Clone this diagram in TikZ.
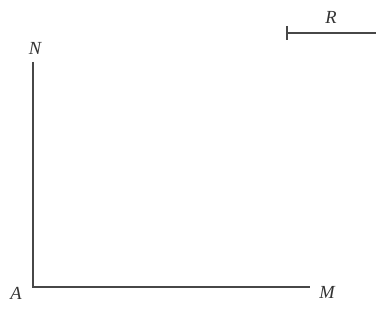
\documentclass[tikz,border=0pt]{standalone}
\usepackage{fontspec}
\setmainfont{Liberation Serif}
\begin{document}
\begin{tikzpicture}[x=0.02cm,y=-0.02cm,
  seg/.style={line width=1.3pt, draw=black!72},
  lbl/.style={font=\itshape\fontsize{10.5}{12}\selectfont, text=black!80, inner sep=0pt}]
\useasboundingbox (0,0) rectangle (376,323);
\coordinate (A) at (33,287);
\coordinate (N) at (33,62);
\coordinate (M) at (310,287);
\coordinate (R0) at (287,33);
\coordinate (R1) at (376,33);
\coordinate (Rt) at (287,26);
\coordinate (Rb) at (287,40);
\draw[seg, line join=miter] (N) -- (A) -- (M);
\draw[seg] (R0) -- (R1);
\draw[seg] (Rt) -- (Rb);
\node[lbl] (la) at (16,293) {A};
\node[lbl] (lm) at (327,292) {M};
\node[lbl] (ln) at (35,48) {N};
\node[lbl] (lr) at (331,17) {R};
\end{tikzpicture}
\end{document}
